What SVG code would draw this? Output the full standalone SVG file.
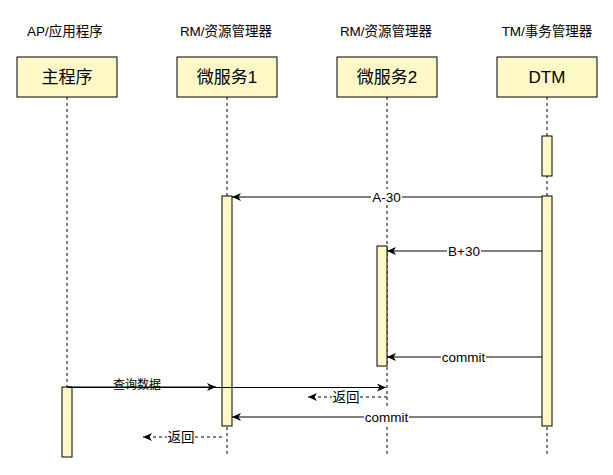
<svg xmlns="http://www.w3.org/2000/svg" width="613" height="475" viewBox="0 0 613 475">
<style>
text{font-family:"Liberation Sans","Noto Sans CJK SC",Arial,sans-serif;fill:#000;text-anchor:middle;dominant-baseline:central}
.hdr{font-size:13.5px}
.box{fill:#fff9c8;stroke:#000;stroke-width:1}
.boxt{font-size:17px}
.life{stroke:#000;stroke-width:1;stroke-dasharray:3 3;fill:none}
.act{fill:#fff9c8;stroke:#000;stroke-width:1}
.msg{stroke:#000;stroke-width:1;fill:none;marker-end:url(#arr)}
.ret{stroke:#000;stroke-width:1;fill:none;stroke-dasharray:3 3;marker-end:url(#arr)}
.lbl{font-size:13.5px}
.bg{fill:#fff}
</style>
<defs>
<marker id="arr" markerWidth="10" markerHeight="8" refX="9" refY="4" orient="auto" markerUnits="userSpaceOnUse">
<path d="M0,0 L9,4 L0,8 L2.5,4 Z" fill="#000"/>
</marker>
</defs>
<rect width="613" height="475" fill="#fff"/>
<g id="headers">
<text class="hdr" x="65" y="31">AP/应用程序</text>
<text class="hdr" x="226" y="31">RM/资源管理器</text>
<text class="hdr" x="386" y="31">RM/资源管理器</text>
<text class="hdr" x="547" y="31">TM/事务管理器</text>
</g>
<g id="lifelines">
<line class="life" x1="67" y1="97" x2="67" y2="457"/>
<line class="life" x1="227" y1="97" x2="227" y2="456"/>
<line class="life" x1="387" y1="97" x2="387" y2="456"/>
<line class="life" x1="547" y1="97" x2="547" y2="456"/>
</g>
<g id="main">
<rect class="box" x="17" y="57" width="100" height="40"/>
<text class="boxt" x="67" y="77">主程序</text>
<rect class="act" x="62" y="387" width="10" height="70"/>
</g>
<g id="svc1">
<rect class="box" x="177" y="57" width="100" height="40"/>
<text class="boxt" x="227" y="77">微服务1</text>
<rect class="act" x="222" y="196" width="10" height="230"/>
</g>
<g id="svc2">
<rect class="box" x="337" y="57" width="100" height="40"/>
<text class="boxt" x="387" y="77">微服务2</text>
<rect class="act" x="377" y="246" width="10" height="120"/>
</g>
<g id="dtm">
<rect class="box" x="497" y="57" width="100" height="40"/>
<text class="boxt" x="547" y="77">DTM</text>
<rect class="act" x="542" y="136" width="10" height="40"/>
<rect class="act" x="542" y="196" width="10" height="230"/>
</g>
<g id="connectors">
<line class="msg" x1="542" y1="197" x2="232" y2="197"/>
<rect class="bg" x="371" y="189" width="31" height="16"/>
<text class="lbl" x="386.5" y="197">A-30</text>

<line class="msg" x1="542" y1="251" x2="387" y2="251"/>
<rect class="bg" x="447" y="243" width="34" height="16"/>
<text class="lbl" x="464" y="251">B+30</text>

<line class="msg" x1="542" y1="357" x2="387" y2="357"/>
<rect class="bg" x="441" y="349" width="45" height="16"/>
<text class="lbl" x="463.5" y="357">commit</text>

<text style="font-size:12px" x="137" y="385">查询数据</text>
<line class="msg" x1="67" y1="387" x2="216" y2="387"/>
<line class="msg" x1="67" y1="387.5" x2="386" y2="387.5"/>

<line class="ret" x1="387" y1="397" x2="308" y2="397"/>
<rect class="bg" x="332" y="389" width="28" height="16"/>
<text class="lbl" x="346" y="397">返回</text>

<line class="msg" x1="542" y1="417" x2="232" y2="417"/>
<rect class="bg" x="364" y="409" width="45" height="16"/>
<text class="lbl" x="386.5" y="417">commit</text>

<line class="ret" x1="222" y1="437" x2="143" y2="437"/>
<rect class="bg" x="167" y="429" width="28" height="16"/>
<text class="lbl" x="181" y="437">返回</text>
</g>
</svg>
